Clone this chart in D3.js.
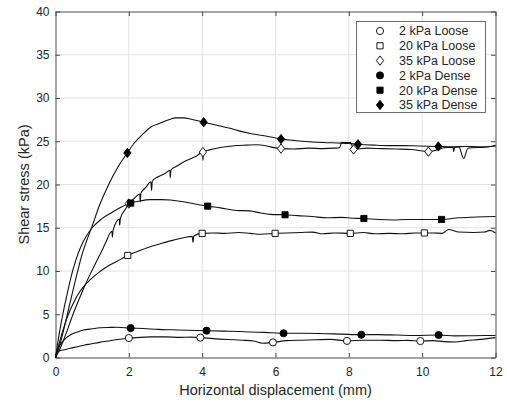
<!DOCTYPE html>
<html>
<head>
<meta charset="utf-8">
<script src="https://cdn.jsdelivr.net/npm/d3@7"></script>
<style>
  html, body { margin: 0; padding: 0; background: #fff; }
  svg { display: block; font-family: "Liberation Sans", Arial, sans-serif; }
</style>
</head>
<body>
<svg id="chart" width="507" height="403"></svg>
<script>
// Shear stress vs horizontal displacement, direct shear tests
const xTicks = [0, 2, 4, 6, 8, 10, 12];
const yTicks = [0, 5, 10, 15, 20, 25, 30, 35, 40];
const xLabel = "Horizontal displacement (mm)";
const yLabel = "Shear stress (kPa)";

const seriesNames = ["2 kPa Loose", "20 kPa Loose", "35 kPa Loose", "2 kPa Dense", "20 kPa Dense", "35 kPa Dense"];
const seriesSymbols = ["circle", "square", "diamond", "circle", "square", "diamond"];
const seriesFilled = [false, false, false, true, true, true];

// measured curves [displacement mm, shear stress kPa]
const loose2 = [[0,0],[0.03,0.4],[0.1,0.75],[0.25,0.9],[0.4,1.06],[0.6,1.25],[0.8,1.45],[0.95,1.56],[1.2,1.75],[1.49,1.94],[1.7,2.08],[1.93,2.2],[2.2,2.3],[2.6,2.38],[3.0,2.38],[3.4,2.33],[3.7,2.35],[3.95,2.3],[4.3,2.18],[4.7,2.08],[5.1,2.0],[5.4,1.9],[5.65,1.65],[5.93,1.75],[6.3,1.95],[6.7,2.0],[7.1,2.05],[7.5,2.1],[7.95,1.92],[8.4,2.0],[8.85,2.0],[9.3,1.95],[9.6,1.98],[9.95,1.9],[10.3,1.95],[10.6,1.83],[10.9,1.8],[11.2,1.95],[11.6,2.1],[12,2.3]];
const loose20 = [[0,0],[0.08,1.3],[0.2,3.1],[0.3,4.4],[0.4,5.5],[0.5,6.4],[0.6,7.2],[0.75,8.1],[0.95,9.0],[1.2,9.9],[1.4,10.5],[1.6,10.95],[1.8,11.4],[1.97,11.8],[2.2,12.2],[2.58,12.8],[2.9,13.2],[3.22,13.57],[3.5,13.85],[3.73,14.0],[3.75,13.3],[3.77,14.05],[4.0,14.35],[4.3,14.4],[4.6,14.35],[5.0,14.45],[5.31,14.35],[5.6,14.25],[5.99,14.35],[6.3,14.4],[6.7,14.45],[7.0,14.5],[7.3,14.3],[7.6,14.4],[8.04,14.35],[8.4,14.45],[8.7,14.3],[9.1,14.35],[9.5,14.3],[9.8,14.4],[10.06,14.4],[10.3,14.4],[10.55,14.35],[10.72,14.8],[11.0,14.5],[11.4,14.45],[11.7,14.5],[11.85,14.7],[12,14.4]];
const loose35 = [[0,0],[0.1,0.8],[0.2,1.8],[0.3,2.9],[0.46,4.8],[0.6,6.3],[0.8,8.3],[1.0,10.1],[1.27,12.4],[1.36,13.2],[1.54,14.6],[1.55,13.9],[1.57,14.7],[1.74,16.0],[1.75,15.3],[1.77,16.1],[1.9,17.1],[2.0,17.8],[2.15,18.4],[2.3,18.9],[2.31,18.0],[2.33,19.0],[2.45,19.6],[2.6,20.3],[2.62,19.3],[2.64,20.4],[2.8,20.9],[3.0,21.3],[3.12,21.65],[3.13,20.8],[3.15,21.7],[3.3,22.1],[3.49,22.6],[3.7,23.0],[3.85,23.3],[4.01,23.75],[4.02,22.8],[4.04,23.8],[4.2,24.0],[4.4,24.2],[4.7,24.4],[4.94,24.5],[5.2,24.55],[5.49,24.6],[5.7,24.5],[5.86,24.35],[6.15,24.15],[6.5,24.1],[6.9,24.2],[7.3,24.15],[7.6,24.2],[7.75,24.25],[7.8,24.85],[8.05,24.85],[8.13,24.05],[8.5,24.2],[8.9,24.15],[9.3,24.1],[9.7,24.05],[10.17,23.8],[10.4,24.0],[10.6,24.25],[10.84,24.3],[10.86,23.8],[10.88,24.3],[11.0,24.35],[11.13,23.0],[11.25,24.2],[11.4,24.25],[11.7,24.3],[12,24.5]];
const dense2 = [[0,0],[0.05,0.8],[0.15,1.6],[0.25,2.1],[0.4,2.6],[0.6,2.95],[0.76,3.17],[1.0,3.32],[1.22,3.44],[1.5,3.48],[1.67,3.5],[2.05,3.4],[2.4,3.35],[2.8,3.25],[3.2,3.2],[3.6,3.15],[4.12,3.1],[4.6,3.05],[5.0,3.0],[5.31,2.95],[5.7,2.9],[6.22,2.8],[6.7,2.8],[7.2,2.78],[7.8,2.7],[8.34,2.63],[8.8,2.65],[9.3,2.6],[9.8,2.55],[10.45,2.6],[10.9,2.5],[11.4,2.52],[12,2.55]];
const dense20 = [[0,0],[0.05,1.4],[0.12,3.2],[0.2,5.0],[0.3,7.0],[0.4,8.9],[0.55,11.2],[0.7,12.9],[0.85,14.1],[1.0,15.0],[1.25,16.0],[1.55,16.8],[1.8,17.4],[2.05,17.85],[2.3,18.1],[2.58,18.25],[2.9,18.25],[3.13,18.2],[3.49,18.0],[3.8,17.75],[4.15,17.5],[4.5,17.3],[4.94,17.0],[5.3,16.95],[5.6,16.7],[5.86,16.55],[6.26,16.5],[6.6,16.4],[7.0,16.3],[7.4,16.15],[7.8,16.2],[8.1,16.1],[8.41,16.07],[8.8,15.95],[9.2,15.9],[9.6,15.95],[10.0,15.95],[10.53,15.96],[11.0,16.15],[11.5,16.25],[12,16.3]];
const dense35 = [[0,0],[0.1,1.2],[0.2,2.8],[0.4,6.4],[0.6,9.9],[0.73,12.0],[0.85,13.5],[1.0,15.2],[1.2,17.6],[1.46,20.1],[1.7,22.0],[1.96,23.65],[2.15,24.8],[2.4,25.9],[2.6,26.65],[2.86,27.1],[3.13,27.55],[3.27,27.7],[3.49,27.7],[3.7,27.55],[4.04,27.2],[4.4,26.85],[4.76,26.5],[5.0,26.2],[5.31,25.9],[5.6,25.7],[5.86,25.5],[6.15,25.25],[6.5,25.1],[6.9,24.95],[7.3,24.85],[7.7,24.8],[8.0,24.75],[8.25,24.65],[8.7,24.55],[9.1,24.5],[9.5,24.5],[9.9,24.45],[10.44,24.4],[10.8,24.35],[11.2,24.4],[11.6,24.35],[12,24.45]];

// marker positions along each curve
const loose2Marks = [[2,2.25],[3.95,2.3],[5.93,1.75],[7.95,1.92],[9.95,1.9]];
const loose20Marks = [[1.97,11.8],[4.0,14.35],[5.99,14.35],[8.04,14.35],[10.06,14.4]];
const loose35Marks = [[2.0,17.8],[4.02,23.75],[6.15,24.15],[8.13,24.05],[10.17,23.8]];
const dense2Marks = [[2.05,3.4],[4.12,3.1],[6.22,2.8],[8.34,2.63],[10.45,2.6]];
const dense20Marks = [[2.05,17.85],[4.15,17.5],[6.26,16.5],[8.41,16.07],[10.53,15.96]];
const dense35Marks = [[1.96,23.65],[4.04,27.2],[6.15,25.25],[8.25,24.65],[10.44,24.4]];

const curves = [loose2, loose20, loose35, dense2, dense20, dense35];
const marks = [loose2Marks, loose20Marks, loose35Marks, dense2Marks, dense20Marks, dense35Marks];

const svg = d3.select("#chart");
const plot = { left: 55.5, right: 495.5, top: 11.5, bottom: 357.5 };
const x = d3.scaleLinear().domain([0, 12]).range([plot.left, plot.right]);
const y = d3.scaleLinear().domain([0, 40]).range([plot.bottom, plot.top]);
const axisColor = "#262626";
const frameColor = "#4a4a4a";

// grid
const grid = svg.append("g").attr("stroke", "#e2e2e2").attr("stroke-width", 1);
grid.selectAll(".gx").data(xTicks.slice(1, -1)).join("line")
  .attr("x1", d => x(d)).attr("x2", d => x(d)).attr("y1", plot.top).attr("y2", plot.bottom);
grid.selectAll(".gy").data(yTicks.slice(1, -1)).join("line")
  .attr("y1", d => y(d)).attr("y2", d => y(d)).attr("x1", plot.left).attr("x2", plot.right);

// axes with inward ticks
function styleAxis(g) {
  g.select(".domain").attr("stroke", frameColor).attr("stroke-width", 1);
  g.selectAll(".tick line").attr("stroke", frameColor);
  g.selectAll(".tick text").attr("fill", axisColor).style("font-size", "12px");
}
svg.append("g").attr("transform", `translate(0,${plot.bottom})`)
  .call(d3.axisBottom(x).tickValues(xTicks).tickFormat(d3.format("d")).tickSizeInner(-4.5).tickSizeOuter(0).tickPadding(10))
  .call(styleAxis);
svg.append("g").attr("transform", `translate(0,${plot.top})`)
  .call(d3.axisTop(x).tickValues(xTicks).tickFormat("").tickSizeInner(-4.5).tickSizeOuter(0))
  .call(styleAxis);
svg.append("g").attr("transform", `translate(${plot.left},0)`)
  .call(d3.axisLeft(y).tickValues(yTicks).tickFormat(d3.format("d")).tickSizeInner(-4.5).tickSizeOuter(0).tickPadding(6))
  .call(styleAxis);
svg.append("g").attr("transform", `translate(${plot.right},0)`)
  .call(d3.axisRight(y).tickValues(yTicks).tickFormat("").tickSizeInner(-4.5).tickSizeOuter(0))
  .call(styleAxis);

// axis titles
svg.append("text").attr("x", (plot.left + plot.right) / 2).attr("y", 395)
  .attr("text-anchor", "middle").attr("fill", axisColor).style("font-size", "14.5px").text(xLabel);
svg.append("text").attr("transform", `translate(28.5,${(plot.top + plot.bottom) / 2}) rotate(-90)`)
  .attr("text-anchor", "middle").attr("fill", axisColor).style("font-size", "14.5px").text(yLabel);

// curves
const line = d3.line().x(d => x(d[0])).y(d => y(d[1])).curve(d3.curveMonotoneX);
svg.append("g").selectAll("path").data(curves).join("path")
  .attr("d", line).attr("fill", "none").attr("stroke", "#111").attr("stroke-width", 1.1);

// marker shapes: circle, square and a slightly tall diamond
const diamondShape = {
  draw(ctx, size) {
    const h = Math.sqrt(size) * 0.72, w = h * 0.78;
    ctx.moveTo(0, -h); ctx.lineTo(w, 0); ctx.lineTo(0, h); ctx.lineTo(-w, 0); ctx.closePath();
  }
};
const symbolShapes = { circle: d3.symbolCircle, square: d3.symbolSquare, diamond: diamondShape };
const symbolSizes = { circle: 40, square: 38, diamond: 42 };
function drawMarker(g, kind, filled) {
  g.append("path")
    .attr("d", d3.symbol().type(symbolShapes[kind]).size(symbolSizes[kind])())
    .attr("fill", filled ? "#000" : "#fff")
    .attr("stroke", "#000").attr("stroke-width", 0.9);
}
marks.forEach((pts, i) => {
  pts.forEach(p => {
    const g = svg.append("g").attr("transform", `translate(${x(p[0])},${y(p[1])})`);
    drawMarker(g, seriesSymbols[i], seriesFilled[i]);
  });
});

// legend
const legend = svg.append("g");
legend.append("rect").attr("x", 356.5).attr("y", 21.5).attr("width", 129).attr("height", 91)
  .attr("fill", "#fff").attr("stroke", frameColor).attr("stroke-width", 0.8);
seriesNames.forEach((name, i) => {
  const cy = 31 + i * 14.8;
  const g = legend.append("g").attr("transform", `translate(380,${cy})`);
  drawMarker(g, seriesSymbols[i], seriesFilled[i]);
  legend.append("text").attr("x", 399).attr("y", cy).attr("dy", "0.35em")
    .attr("fill", axisColor).style("font-size", "12.5px").text(name);
});
</script>
</body>
</html>
